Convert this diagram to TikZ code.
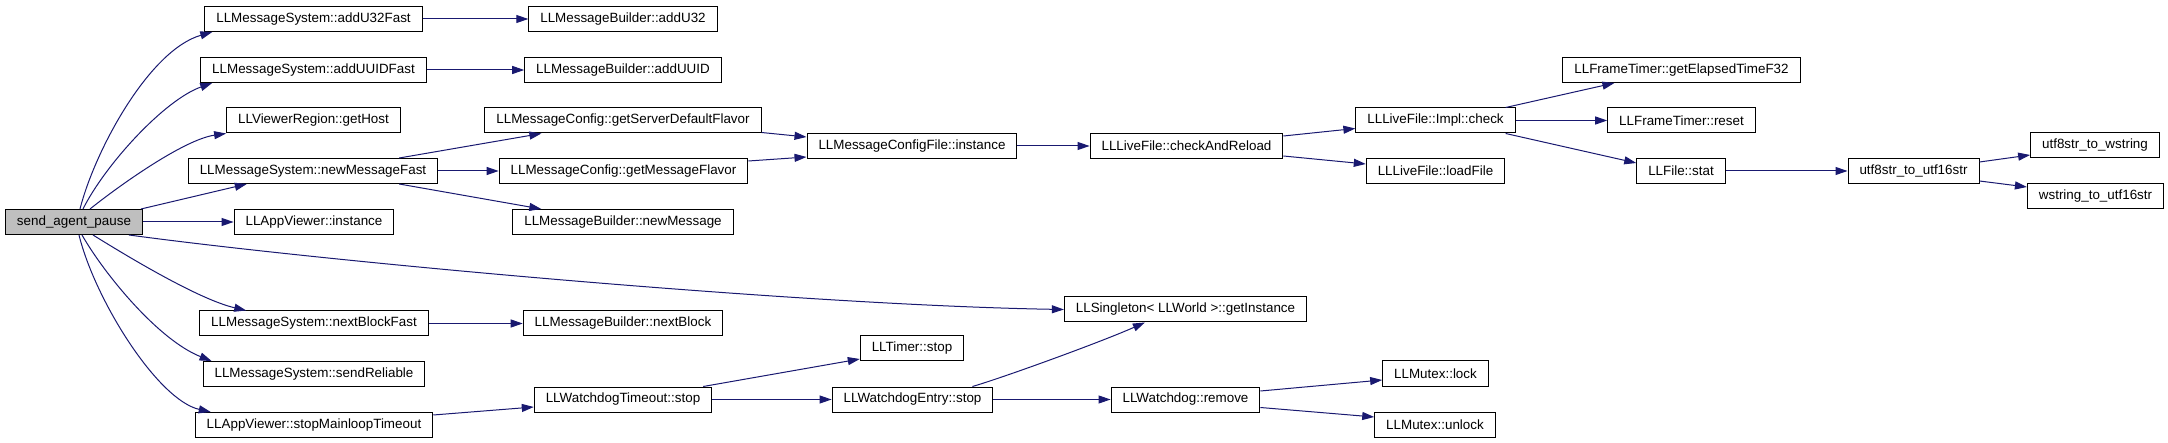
\documentclass[tikz,border=0pt]{standalone}
\usepackage{fontspec}
\setmainfont{Liberation Sans}
\usepackage{xcolor}
\usetikzlibrary{arrows.meta}
\definecolor{callblue}{HTML}{191970}

\begin{document}
\begin{tikzpicture}[x=1pt, y=-1pt,
  fn/.style={draw, line width=1pt, inner xsep=11.5pt, inner ysep=0pt,
    minimum height=25pt, font=\fontsize{13.4}{16}\selectfont},
  root/.style={fn, fill=black!25},
  call/.style={draw=callblue, line width=1pt, -{Triangle[length=12pt,width=8pt]}}]
\useasboundingbox (0,0) rectangle (2168,443);
% корень
\node[root] (spa) at (74,222) {send\_agent\_pause};
% первый уровень
\node[fn] (msU32) at (313.5,19) {LLMessageSystem::addU32Fast};
\node[fn] (msUUID) at (313.5,70) {LLMessageSystem::addUUIDFast};
\node[fn] (vrHost) at (313.5,120.5) {LLViewerRegion::getHost};
\node[fn] (msNew) at (313,171) {LLMessageSystem::newMessageFast};
\node[fn] (avInst) at (314,222) {LLAppViewer::instance};
\node[fn] (msNext) at (314,323.5) {LLMessageSystem::nextBlockFast};
\node[fn] (msSend) at (314,374) {LLMessageSystem::sendReliable};
\node[fn] (avStop) at (314,425) {LLAppViewer::stopMainloopTimeout};
% второй уровень
\node[fn] (mbU32) at (623,19) {LLMessageBuilder::addU32};
\node[fn] (mbUUID) at (623,70) {LLMessageBuilder::addUUID};
\node[fn] (mcServer) at (623,120.5) {LLMessageConfig::getServerDefaultFlavor};
\node[fn] (mcFlavor) at (623.5,171) {LLMessageConfig::getMessageFlavor};
\node[fn] (mbNew) at (623,222) {LLMessageBuilder::newMessage};
\node[fn] (mbNext) at (623,323.5) {LLMessageBuilder::nextBlock};
\node[fn] (wdTimeout) at (623,399.5) {LLWatchdogTimeout::stop};
% третий уровень
\node[fn] (mcfInst) at (912,146) {LLMessageConfigFile::instance};
\node[fn] (tmStop) at (912,348.5) {LLTimer::stop};
\node[fn] (wdEntry) at (912.5,399.5) {LLWatchdogEntry::stop};
% четвёртый уровень
\node[fn] (lfReload) at (1186.5,146) {LLLiveFile::checkAndReload};
\node[fn] (worldInst) at (1185.5,309.5) {LLSingleton< LLWorld >::getInstance};
\node[fn] (wdRemove) at (1185.5,399.5) {LLWatchdog::remove};
% пятый уровень
\node[fn] (lfCheck) at (1435.5,120.5) {LLLiveFile::Impl::check};
\node[fn] (lfLoad) at (1435.5,171) {LLLiveFile::loadFile};
\node[fn] (mxLock) at (1435.5,373.5) {LLMutex::lock};
\node[fn] (mxUnlock) at (1435,425) {LLMutex::unlock};
% шестой уровень
\node[fn] (ftElapsed) at (1681.5,70) {LLFrameTimer::getElapsedTimeF32};
\node[fn] (ftReset) at (1681.5,120.5) {LLFrameTimer::reset};
\node[fn] (fStat) at (1681,171) {LLFile::stat};
% строки
\node[fn] (u8u16) at (1913.5,171) {utf8str\_to\_utf16str};
\node[fn] (u8w) at (2095,145.5) {utf8str\_to\_wstring};
\node[fn] (w16) at (2095.5,196.5) {wstring\_to\_utf16str};
% вызовы из корня
\draw[call] ([xshift=6]spa.north) .. controls +(15,-59) and +(-63,18) .. ([xshift=8]msU32.south west);
\draw[call] ([xshift=9]spa.north) .. controls +(22,-44) and +(-48,17) .. ([xshift=12]msUUID.south west);
\draw[call] ([xshift=16]spa.north) .. controls +(30,-24) and +(-42,6) .. (vrHost.south west);
\draw[call] ([xshift=-2]spa.north east) -- ([xshift=59]msNew.south west);
\draw[call] (spa) -- (avInst);
\draw[call] ([xshift=-14]spa.south east) .. controls +(200,27) and +(-264,-4.5) .. (worldInst.west);
\draw[call] ([xshift=19]spa.south) .. controls +(37,23) and +(-47,-11) .. ([xshift=47]msNext.north west);
\draw[call] ([xshift=8]spa.south) .. controls +(23,40) and +(-53,-21) .. ([xshift=9]msSend.north west);
\draw[call] ([xshift=5]spa.south) .. controls +(16,65) and +(-53,-12) .. ([xshift=16]avStop.north west);
% остальные вызовы
\draw[call] (msU32) -- (mbU32);
\draw[call] (msUUID) -- (mbUUID);
\draw[call] ([xshift=-39]msNew.north east) -- ([xshift=57]mcServer.south west);
\draw[call] (msNew) -- (mcFlavor);
\draw[call] ([xshift=-39]msNew.south east) -- ([xshift=29]mbNew.north west);
\draw[call] ([yshift=1]mcServer.south east) -- ([yshift=9]mcfInst.west);
\draw[call] ([yshift=-3]mcFlavor.north east) -- ([yshift=-11]mcfInst.west);
\draw[call] (msNext) -- (mbNext);
\draw[call] (mcfInst) -- (lfReload);
\draw[call] ([yshift=10]lfReload.east) -- ([yshift=-8]lfCheck.west);
\draw[call] ([yshift=-10]lfReload.east) -- ([yshift=7]lfLoad.west);
\draw[call] ([xshift=-10]lfCheck.north east) -- ([xshift=52]ftElapsed.south west);
\draw[call] (lfCheck) -- (ftReset);
\draw[call] ([xshift=-10]lfCheck.south east) -- ([yshift=-5]fStat.north west);
\draw[call] (fStat) -- (u8u16);
\draw[call] ([yshift=9]u8u16.east) -- ([yshift=-9.5]u8w.west);
\draw[call] ([yshift=-10]u8u16.east) -- ([yshift=9.5]w16.west);
\draw[call] ([yshift=10]avStop.east) -- ([yshift=-7.5]wdTimeout.west);
\draw[call] ([xshift=-9]wdTimeout.north east) -- ([yshift=-10.5]tmStop.west);
\draw[call] (wdTimeout) -- (wdEntry);
\draw[call] ([xshift=-21]wdEntry.north east) .. controls +(28,-8) and +(-45,20) .. ([xshift=81]worldInst.south west);
\draw[call] (wdEntry) -- (wdRemove);
\draw[call] ([yshift=8.5]wdRemove.east) -- ([yshift=-6.5]mxLock.west);
\draw[call] ([yshift=-8]wdRemove.east) -- ([yshift=8]mxUnlock.west);
\end{tikzpicture}
\end{document}
